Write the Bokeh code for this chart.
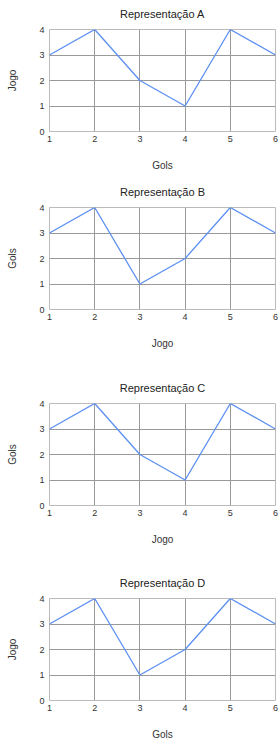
from bokeh.plotting import figure
from bokeh.layouts import column
from bokeh.models import Range1d, FixedTicker
from bokeh.embed import file_html
from bokeh.resources import INLINE

x_vals = [1, 2, 3, 4, 5, 6]
titles = ["Representação A", "Representação B", "Representação C", "Representação D"]
series_a = [3, 4, 2, 1, 4, 3]
series_b = [3, 4, 1, 2, 4, 3]
series_c = [3, 4, 2, 1, 4, 3]
series_d = [3, 4, 1, 2, 4, 3]
x_labels = ["Gols", "Jogo", "Jogo", "Gols"]
y_labels = ["Jogo", "Gols", "Gols", "Jogo"]
x_ticks = [1, 2, 3, 4, 5, 6]
y_ticks = [0, 1, 2, 3, 4]

series = [series_a, series_b, series_c, series_d]
heights = [178, 196, 195, 183]

FONT = "Liberation Sans"
figs = []
for t, ys, xl, yl, h in zip(titles, series, x_labels, y_labels, heights):
    p = figure(width=280, height=h, output_backend="svg", toolbar_location=None,
               x_range=Range1d(1, 6), y_range=Range1d(0, 4),
               min_border_left=49, min_border_right=5, min_border_top=29,
               min_border_bottom=h - 29 - 102)
    p.title.text = t
    p.title.align = "center"
    p.title.vertical_align = "top"
    p.title.text_font = FONT
    p.title.text_font_size = "11px"
    p.title.text_font_style = "normal"
    p.title.text_color = "#222222"
    p.title.standoff = 15
    p.line(x_vals, ys, line_color="#5b8ff2", line_width=1.3)
    for ax in (p.xaxis[0], p.yaxis[0]):
        ax.axis_line_color = None
        ax.major_tick_line_color = None
        ax.minor_tick_line_color = None
        ax.major_tick_out = 0
        ax.major_tick_in = 0
        ax.minor_tick_out = 0
        ax.minor_tick_in = 0
        ax.major_label_text_font = FONT
        ax.major_label_text_font_size = "9px"
        ax.major_label_text_color = "#333333"
        ax.axis_label_text_font = FONT
        ax.axis_label_text_font_size = "10px"
        ax.axis_label_text_font_style = "normal"
        ax.axis_label_text_color = "#333333"
    p.xaxis.ticker = FixedTicker(ticks=x_ticks)
    p.yaxis.ticker = FixedTicker(ticks=y_ticks)
    p.xaxis.axis_label = xl
    p.yaxis.axis_label = yl
    p.xaxis.major_label_standoff = 4
    p.yaxis.major_label_standoff = 5
    p.xaxis.axis_label_standoff = 15
    p.yaxis.axis_label_standoff = 18
    p.xgrid.ticker = FixedTicker(ticks=x_ticks)
    p.ygrid.ticker = FixedTicker(ticks=y_ticks)
    p.grid.grid_line_color = "#999999"
    p.grid.grid_line_width = 1
    p.outline_line_color = "#bbbbbb"
    p.outline_line_width = 1
    p.frame_width = 226
    p.frame_height = 102
    figs.append(p)

layout = column(*figs, spacing=0)
open("out.html", "w").write(file_html(layout, INLINE))
